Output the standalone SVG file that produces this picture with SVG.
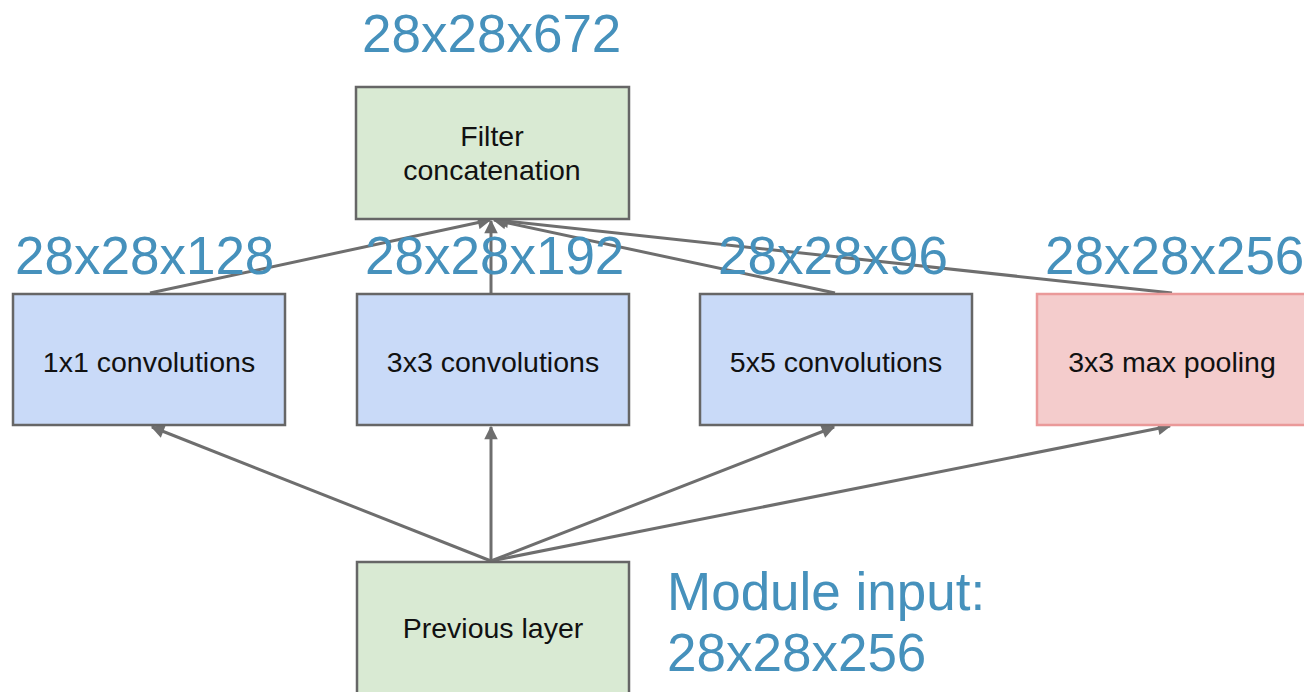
<svg xmlns="http://www.w3.org/2000/svg" width="1304" height="692" viewBox="0 0 1304 692">
  <style>
    .box { stroke: #666666; stroke-width: 2.5; }
    .green { fill: #d9ead3; }
    .blue { fill: #c9daf8; }
    .red { fill: #f4cccc; stroke: #ea9999; }
    .lbl { font-family: "Liberation Sans", Arial, sans-serif; font-size: 28.5px; fill: #111; text-anchor: middle; }
    .dim { font-family: "Liberation Sans", Arial, sans-serif; font-size: 53px; fill: #4691bc; }
    .edge { stroke: #6e6e6e; stroke-width: 3; fill: none; marker-end: url(#arrow); }
  </style>
  <defs>
    <marker id="arrow" viewBox="0 0 10 10" refX="9" refY="5" markerWidth="5" markerHeight="4.5" orient="auto" markerUnits="strokeWidth">
      <path d="M0,0 L10,5 L0,10 z" fill="#6e6e6e"/>
    </marker>
  </defs>

  <!-- connectors -->
  <g id="connectors">
    <line class="edge" x1="491" y1="561" x2="152" y2="427"/>
    <line class="edge" x1="491" y1="561" x2="491" y2="427"/>
    <line class="edge" x1="491" y1="561" x2="834" y2="427"/>
    <line class="edge" x1="491" y1="561" x2="1170" y2="426"/>
    <line class="edge" x1="150" y1="293" x2="490" y2="220"/>
    <line class="edge" x1="491" y1="293" x2="491" y2="221"/>
    <line class="edge" x1="835" y1="293" x2="494" y2="220"/>
    <line class="edge" x1="1172" y1="293" x2="496" y2="220"/>
  </g>

  <g id="filter-concat">
    <rect class="box green" x="356" y="87" width="273" height="132"/>
    <text class="lbl" x="492" y="146">Filter</text>
    <text class="lbl" x="492" y="180">concatenation</text>
  </g>

  <g id="conv1x1">
    <rect class="box blue" x="13" y="294" width="272" height="131"/>
    <text class="lbl" x="149" y="372">1x1 convolutions</text>
  </g>

  <g id="conv3x3">
    <rect class="box blue" x="357" y="294" width="272" height="131"/>
    <text class="lbl" x="493" y="372">3x3 convolutions</text>
  </g>

  <g id="conv5x5">
    <rect class="box blue" x="700" y="294" width="272" height="131"/>
    <text class="lbl" x="836" y="372">5x5 convolutions</text>
  </g>

  <g id="maxpool">
    <rect class="box red" x="1037" y="294" width="272" height="131"/>
    <text class="lbl" x="1172" y="372">3x3 max pooling</text>
  </g>

  <g id="previous-layer">
    <rect class="box green" x="357" y="562" width="272" height="140"/>
    <text class="lbl" x="493" y="638">Previous layer</text>
  </g>

  <!-- output sizes -->
  <g id="dims">
    <text class="dim" x="362" y="52">28x28x672</text>
    <text class="dim" x="15" y="274">28x28x128</text>
    <text class="dim" x="365" y="274">28x28x192</text>
    <text class="dim" x="718" y="274">28x28x96</text>
    <text class="dim" x="1045" y="274">28x28x256</text>
    <text class="dim" x="667" y="610">Module input:</text>
    <text class="dim" x="667" y="671">28x28x256</text>
  </g>
</svg>
